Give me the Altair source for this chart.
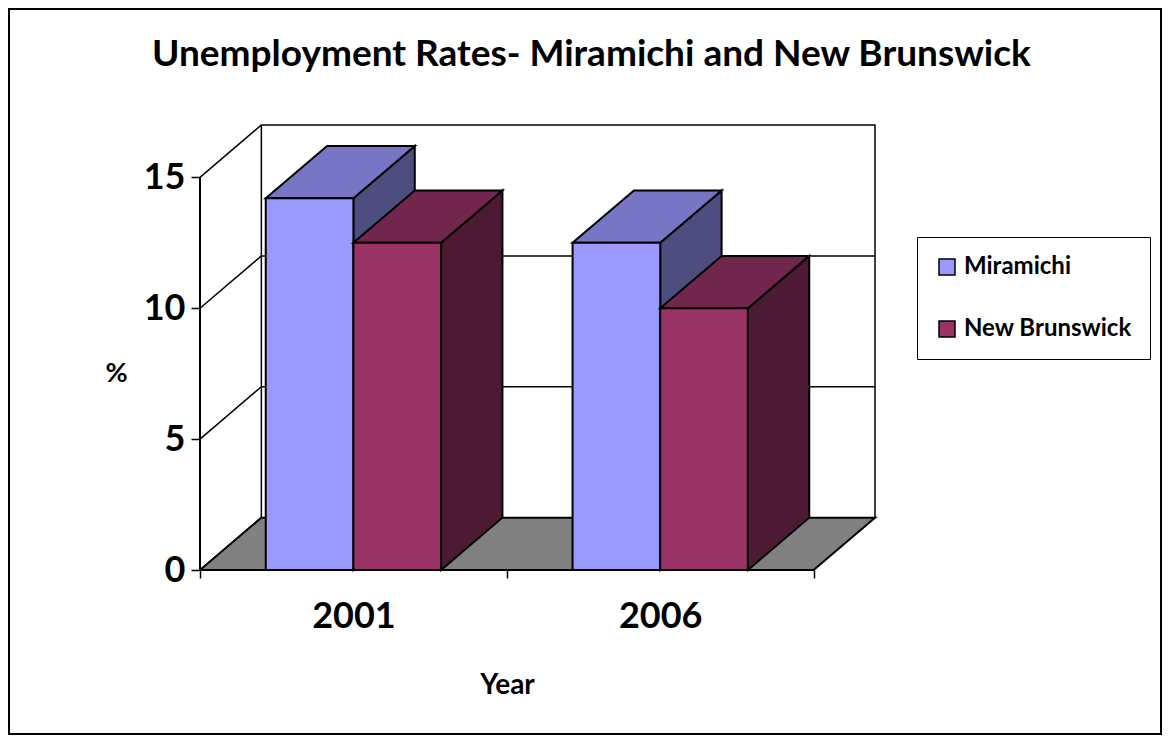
import altair as alt
import pandas as pd

# ---- data ----
years = ["2001", "2006"]
series = ["Miramichi", "New Brunswick"]
miramichi = [14.2, 12.5]
new_brunswick = [12.5, 10.0]
y_ticks = [0, 5, 10, 15]
title_text = "Unemployment Rates- Miramichi and New Brunswick"

# ---- styles ----
front_colors = ["#9999FF", "#993366"]
top_colors = ["#7676C4", "#73264D"]
side_colors = ["#4D4D80", "#4D1A33"]
floor_color = "#808080"
FONT = "Lato"

GAP = 1.5                       # gap width, as a share of bar width
BW = 1.0 / (len(series) + GAP)  # bar width in category units
DX = 0.2                        # depth offset, category units
DY = 2.0                        # depth offset, value units
n = len(years)
ymax = y_ticks[-1]

x_scale = alt.Scale(domain=[0, n + DX], nice=False, zero=False)
y_scale = alt.Scale(domain=[0, ymax + DY], nice=False, zero=False)

x_vals = [k * 0.5 for k in range(2 * n + 1)]
label_expr = " : ".join(
    f"datum.value == {i + 0.5} ? '{y}'" for i, y in enumerate(years)
) + " : ''"

X_AXIS = alt.Axis(
    values=x_vals, labelExpr=label_expr, domain=False, grid=False,
    tickSize=8, tickWidth=1.5, tickColor="black",
    tickOpacity={"condition": {"test": "datum.value % 1 === 0", "value": 1}, "value": 0},
    labelFont=FONT, labelFontSize=36, labelFontWeight="bold", labelColor="black",
    labelBaseline="middle", labelPadding=38, labelOverlap=False, labelFlush=False,
    title="Year", titleFont=FONT, titleFontSize=28, titleFontWeight="bold",
    titleColor="black", titleX=307, titleY=115, titleBaseline="middle",
    titleAlign="center",
)
Y_AXIS = alt.Axis(
    values=y_ticks, domain=False, grid=False,
    tickSize=9, tickWidth=1.5, tickColor="black",
    labelFont=FONT, labelFontSize=36, labelFontWeight="bold", labelColor="black",
    labelPadding=6, labelOverlap=False, labelFlush=False,
    title="%", titleFont=FONT, titleFontSize=27, titleFontWeight="bold",
    titleColor="black", titleAngle=0, titleX=-84, titleY=248,
    titleAlign="center", titleBaseline="middle",
)


def X(field="x"):
    return alt.X(f"{field}:Q", scale=x_scale, axis=X_AXIS)


def Y(field="y"):
    return alt.Y(f"{field}:Q", scale=y_scale, axis=Y_AXIS)


def face(df, fill):
    return alt.Chart(df).mark_area(
        fill=fill, stroke="black", strokeWidth=2, interpolate="linear", opacity=1
    ).encode(x=X(), y=Y(), y2="y2:Q")


layers = []

# outer frame of the whole chart
layers.append(
    alt.Chart(alt.Data(values=[{}])).mark_rect(
        fill="white", fillOpacity=0, stroke="black", strokeWidth=2
    ).encode(x=alt.value(-191), x2=alt.value(961), y=alt.value(-116), y2=alt.value(609))
)

# back wall
wall = pd.DataFrame({"x": [DX], "x2": [n + DX], "y": [DY], "y2": [ymax + DY]})
layers.append(
    alt.Chart(wall).mark_rect(fill="white", stroke="black", strokeWidth=1.5).encode(
        x=X(), x2="x2:Q", y=Y(), y2="y2:Q"
    )
)

# back wall gridlines
grid_back = pd.DataFrame({"y": [t + DY for t in y_ticks[1:-1]]})
grid_back["x"] = DX
grid_back["x2"] = n + DX
layers.append(
    alt.Chart(grid_back).mark_rule(color="black", strokeWidth=1.5).encode(
        x=X(), x2="x2:Q", y=Y()
    )
)

# side wall diagonals
side_lines = pd.DataFrame({"y": y_ticks, "y2": [t + DY for t in y_ticks]})
side_lines["x"] = 0.0
side_lines["x2"] = DX
layers.append(
    alt.Chart(side_lines).mark_rule(color="black", strokeWidth=1.5).encode(
        x=X(), x2="x2:Q", y=Y(), y2="y2:Q"
    )
)

# front value axis line
front_axis = pd.DataFrame({"x": [0.0], "y": [0.0], "y2": [ymax]})
layers.append(
    alt.Chart(front_axis).mark_rule(color="black", strokeWidth=2).encode(
        x=X(), y=Y(), y2="y2:Q"
    )
)

# floor
floor = pd.DataFrame({"x": [0, DX, n, n + DX], "y": [0, DY, DY, DY], "y2": [0, 0, 0, DY]})
layers.append(face(floor, floor_color))

color_scale = alt.Scale(domain=series, range=front_colors)
legend = alt.Legend(
    title=None, orient="none", legendX=717, legendY=112,
    symbolType="square", symbolSize=256, symbolStrokeColor="black",
    symbolStrokeWidth=1.5, symbolOpacity=1,
    labelFont=FONT, labelFontSize=24, labelFontWeight="bold", labelColor="black",
    labelOffset=5, labelLimit=400, rowPadding=38, padding=18,
    strokeColor="black", fillColor="white",
)

values = [miramichi, new_brunswick]
for i, year in enumerate(years):
    for j, name in enumerate(series):
        v = values[j][i]
        x0 = i + GAP * BW / 2 + j * BW
        x1 = x0 + BW
        side = pd.DataFrame({"x": [x1, x1 + DX], "y": [v, v + DY], "y2": [0, DY]})
        top = pd.DataFrame({
            "x": [x0, x0 + DX, x1, x1 + DX],
            "y": [v, v + DY, v + DY, v + DY],
            "y2": [v, v, v, v + DY],
        })
        front = pd.DataFrame({"x": [x0], "x2": [x1], "y": [0.0], "y2": [v],
                              "series": [name], "year": [year]})
        layers.append(face(side, side_colors[j]))
        layers.append(face(top, top_colors[j]))
        layers.append(
            alt.Chart(front).mark_rect(stroke="black", strokeWidth=2, opacity=1).encode(
                x=X(), x2="x2:Q", y=Y(), y2="y2:Q",
                color=alt.Color("series:N", scale=color_scale, legend=legend),
            )
        )

chart = alt.layer(*layers).properties(
    width=675,
    height=445,
    padding={"left": 192, "top": 117, "right": 287, "bottom": 165},
    autosize=alt.AutoSizeParams(type="none"),
    title=alt.TitleParams(
        text=title_text, font=FONT, fontSize=37, fontWeight="bold", color="black",
        anchor="middle", frame="group", dx=54, offset=-95, baseline="alphabetic",
    ),
    background="white",
).configure_view(stroke="transparent")

chart.save("out.html", embed_options={"renderer": "svg", "actions": False})
